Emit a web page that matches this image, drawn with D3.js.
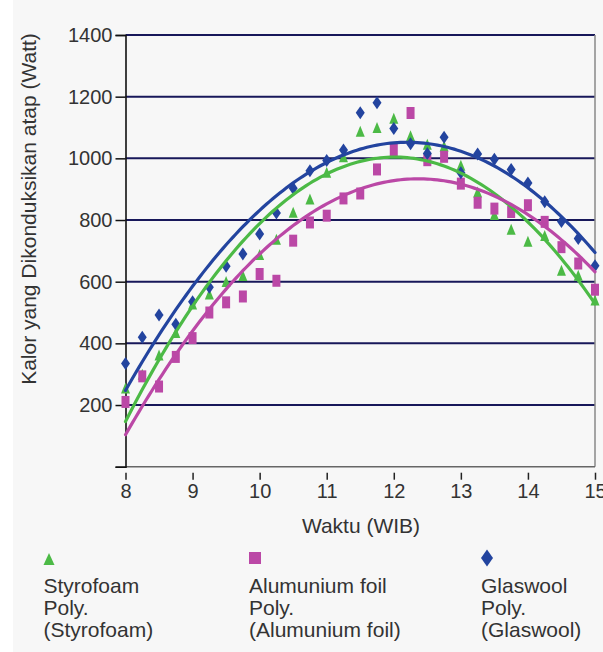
<!DOCTYPE html>
<html><head><meta charset="utf-8">
<script src="https://cdn.jsdelivr.net/npm/d3@7"></script>
<style>
html,body{margin:0;padding:0;background:#f7f7f7;}
svg{display:block;font-family:"Liberation Sans",Arial,Helvetica,sans-serif;}
</style></head>
<body><svg id="c" width="603" height="652"></svg>
<script>
const times = [8,8.25,8.5,8.75,9,9.25,9.5,9.75,10,10.25,10.5,10.75,11,11.25,11.5,11.75,12,12.25,12.5,12.75,13,13.25,13.5,13.75,14,14.25,14.5,14.75,15];
const styrofoam = [255,300,362,435,528,560,601,620,688,738,825,868,955,1005,1088,1100,1130,1073,1046,1040,978,891,818,770,731,750,637,621,541];
const alumunium = [210,293,260,356,417,500,533,552,625,603,733,792,814,870,886,964,1027,1147,994,1005,918,856,837,826,848,794,712,659,574];
const glaswool = [335,420,492,462,535,582,650,690,755,823,903,960,993,1027,1148,1180,1097,1047,1016,1068,953,1014,997,964,920,859,795,740,652];
const xTicks = [8,9,10,11,12,13,14,15];
const yTicks = [200,400,600,800,1000,1200,1400];
const seriesNames = ["Styrofoam","Alumunium foil","Glaswool"];
const xTitle = "Waktu (WIB)";
const yTitle = "Kalor yang Dikonduksikan atap (Watt)";

const svg = d3.select("#c");
svg.append("rect").attr("x",0).attr("y",0).attr("width",13).attr("height",652).attr("fill","#ffffff");

const L=125.5, R=595, T=35, B=466.7;
const x = d3.scaleLinear().domain([8,15]).range([L,R]);
const y = d3.scaleLinear().domain([0,1400]).range([B,T]);

// gridlines
svg.append("g").selectAll("line").data(yTicks).join("line")
  .attr("x1",L).attr("x2",R).attr("y1",d=>y(d)).attr("y2",d=>y(d))
  .attr("stroke","#18185a").attr("stroke-width",2);
// right & bottom border
svg.append("line").attr("x1",R).attr("x2",R).attr("y1",T).attr("y2",B).attr("stroke","#888").attr("stroke-width",1.5);
svg.append("line").attr("x1",L).attr("x2",R).attr("y1",B).attr("y2",B).attr("stroke","#666").attr("stroke-width",1.5);

// y axis
const yAxis = d3.axisLeft(y).tickValues([0].concat(yTicks)).tickSize(10).tickPadding(3)
  .tickFormat(d=> d===0 ? "" : d);
const gy = svg.append("g").attr("transform",`translate(${L},0)`).call(yAxis);
gy.select(".domain").attr("stroke","#111").attr("stroke-width",1.6);
gy.selectAll(".tick line").attr("stroke","#111").attr("stroke-width",1.5);
gy.selectAll(".tick text").attr("font-size",20).attr("fill","#333").attr("font-family","Liberation Sans, Arial, sans-serif");

// x axis ticks (below, with gap)
const xAxis = d3.axisBottom(x).tickValues(xTicks).tickSize(7).tickPadding(4).tickFormat(d=>d);
const gx = svg.append("g").attr("transform",`translate(0,${B+6})`).call(xAxis);
gx.select(".domain").remove();
gx.selectAll(".tick line").attr("stroke","#222").attr("stroke-width",1.5);
gx.selectAll(".tick text").attr("font-size",20).attr("fill","#333").attr("font-family","Liberation Sans, Arial, sans-serif");

// titles
svg.append("text").attr("x",361).attr("y",533).attr("text-anchor","middle")
  .attr("font-size",21).attr("fill","#333").text(xTitle);
svg.append("text").attr("transform","translate(36,209) rotate(-90)").attr("text-anchor","middle")
  .attr("font-size",21).attr("fill","#333").text(yTitle);

const colors = ["#4cba46","#bb48a6","#23449f"];
const data = [styrofoam, alumunium, glaswool];

function markerPath(kind, w, h){
  if(kind===0) return `M0,${-h/2}L${w/2},${h/2}L${-w/2},${h/2}Z`;
  if(kind===1) return `M${-w/2},${-h/2}H${w/2}V${h/2}H${-w/2}Z`;
  return `M0,${-h/2}L${w/2},0L0,${h/2}L${-w/2},0Z`;
}
const msize = [[9,11],[8,12],[9,13]];

// markers
data.forEach((vals,i)=>{
  svg.append("g").selectAll("path").data(times).join("path")
    .attr("transform",(t,j)=>`translate(${x(t)},${y(vals[j])})`)
    .attr("d",markerPath(i,msize[i][0],msize[i][1]))
    .attr("fill",colors[i]);
});

// quadratic least-squares trendline
function quadFit(xs, ys){
  const c = 11.5;
  let S=[0,0,0,0,0], Sy=[0,0,0];
  xs.forEach((xv,k)=>{ const u=xv-c; let p=1;
    for(let e=0;e<5;e++){S[e]+=p; if(e<3) Sy[e]+=p*ys[k]; p*=u;} });
  const A=[[S[0],S[1],S[2],Sy[0]],[S[1],S[2],S[3],Sy[1]],[S[2],S[3],S[4],Sy[2]]];
  for(let i=0;i<3;i++){ for(let r=i+1;r<3;r++){ const f=A[r][i]/A[i][i]; for(let k=i;k<4;k++) A[r][k]-=f*A[i][k]; } }
  const b=[0,0,0];
  for(let i=2;i>=0;i--){ let s=A[i][3]; for(let k=i+1;k<3;k++) s-=A[i][k]*b[k]; b[i]=s/A[i][i]; }
  return t=>{const u=t-c; return b[0]+b[1]*u+b[2]*u*u;};
}
const line = d3.line().x(d=>x(d[0])).y(d=>y(d[1])).curve(d3.curveLinear);
data.forEach((vals,i)=>{
  const f = quadFit(times, vals);
  const pts = d3.range(0,141).map(k=>{const t=8+k*0.05; return [t,f(t)];});
  svg.append("path").attr("d",line(pts)).attr("fill","none")
    .attr("stroke",colors[i]).attr("stroke-width",3.2).attr("stroke-linecap","round");
});

// legend
const legX = [43.5, 249, 481];
const legMk = [[49,559,11,12],[255,558,12,12],[487,558,12,17]];
seriesNames.forEach((n,i)=>{
  svg.append("path").attr("transform",`translate(${legMk[i][0]},${legMk[i][1]})`)
    .attr("d",markerPath(i,legMk[i][2],legMk[i][3])).attr("fill",colors[i]);
  const lines=[n,"Poly.","("+n+")"];
  lines.forEach((s,k)=>{
    svg.append("text").attr("x",legX[i]).attr("y",593+k*22).attr("font-size",21)
      .attr("fill","#333").text(s);
  });
});
</script></body></html>
